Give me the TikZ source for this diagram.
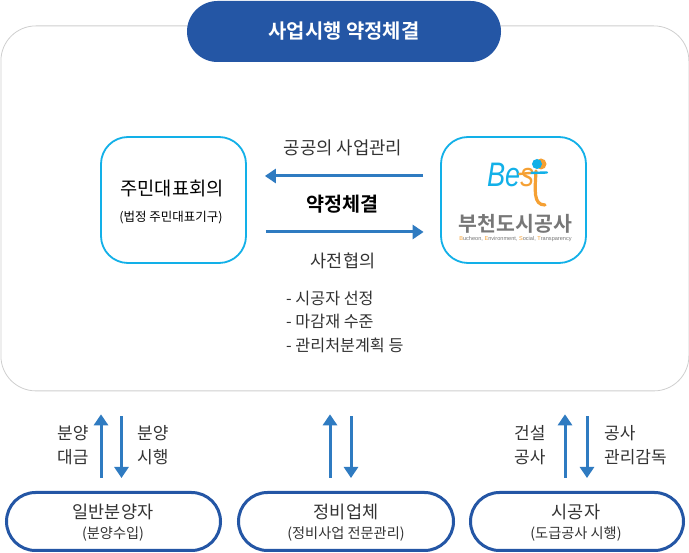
\documentclass[tikz,border=0pt]{standalone}
\usepackage{fontspec}
\setmainfont{Noto Sans CJK KR}
\newfontfamily\krb{Noto Sans CJK KR Bold}
\newfontfamily\lat{Liberation Sans}
\usetikzlibrary{arrows.meta,calc}
\definecolor{navy}{HTML}{2456A5}
\definecolor{arrowblue}{HTML}{2F7BC1}
\definecolor{sky}{HTML}{12B0E8}
\definecolor{framegray}{HTML}{CFCFCF}
\definecolor{txt}{HTML}{333333}
\definecolor{logoor}{HTML}{F5A033}
\definecolor{logogray}{HTML}{777777}
\newcommand{\fs}[1]{\fontsize{#1}{#1}\selectfont}
\tikzset{
  x=1pt,y=-1pt,
  frame/.style={draw=framegray,line width=0.8pt,fill=white,rounded corners=35pt,minimum width=688pt,minimum height=365pt,anchor=north west,inner sep=0},
  party/.style={draw=sky,line width=1.8pt,fill=white,rounded corners=27pt,minimum width=145pt,minimum height=126pt,inner sep=0},
  pillbox/.style={draw=navy,line width=3pt,fill=white,rounded corners=29pt,minimum height=58pt,inner sep=0},
  head/.style={fill=navy,rounded corners=30.5pt,minimum width=314pt,minimum height=61pt,inner sep=0,text=white},
  arr/.style={draw=arrowblue,line width=3pt,-{Triangle[length=11pt,width=14pt]}},
  lbl/.style={text=txt,inner sep=0,align=center},
  blk/.style={text=black,inner sep=0,align=center},
  twoline/.style={lbl,align=left,font=\fontsize{17}{24}\selectfont}
}
\begin{document}
\begin{tikzpicture}
\useasboundingbox (0,0) rectangle (689,553);
\node[frame] (fr) at (0.5,25.5) {};
\node[head] (hd) at (344,31.5) {\krb\fs{19.9}사업시행 약정체결};
\node[party] (rep) at (173.5,200) {};
\node[party] (best) at (513.5,200) {};
\node[blk] (t1) at (172,189) {\fs{18.7}주민대표회의};
\node[blk] (t2) at (171,218) {\fs{12.5}(법정 주민대표기구)};
% logo
\node[inner sep=0,anchor=base] (lg1) at (510.5,187) {\lat\itshape\fs{34}\scalebox{0.8}[1]{\textcolor{sky}{Be}\textcolor{logoor}{s}}};
\draw[logoor,line width=3.2pt,line cap=round] (536,171) .. controls (535,190) and (533,205) .. (545,205);
\draw[sky,line width=2.4pt,line cap=round] (530,173) -- (547,172.5);
\draw[logoor,line width=2.4pt,line cap=round] (519,174) -- (530,173);
\fill[logoor] (541,164) circle[radius=5.5];
\fill[sky] (537,164) circle[radius=5];
\node[inner sep=0,text=logogray] (lg2) at (515.5,224) {\krb\fs{20.5}부천도시공사};
\node[inner sep=0,text=logogray] (lg3) at (515.5,239) {\lat\fs{5.6}{\color{logoor}B}ucheon, {\color{logoor}E}nvironment, {\color{logoor}S}ocial, {\color{logoor}T}ransparency};
% middle
\draw[arr,shorten <=17pt,shorten >=18pt] (best.west |- 0,176) -- (rep.east |- 0,176);
\draw[arr,shorten <=19pt,shorten >=16.5pt] (rep.east |- 0,232) -- (best.west |- 0,232);
\node[lbl] (a) at (343,148) {\fs{17.8}공공의 사업관리};
\node[blk] (b) at (342.5,204) {\krb\fs{19.6}약정체결};
\node[lbl] (c) at (343,261) {\fs{17.5}사전협의};
\node[lbl,anchor=west] (d1) at (286,298) {\fs{16.2}- 시공자 선정};
\node[lbl,anchor=west] (d2) at (286,321) {\fs{16.2}- 마감재 수준};
\node[lbl,anchor=west] (d3) at (286,345) {\fs{16.2}- 관리처분계획 등};
% pills
\node[pillbox,minimum width=214pt] (p1) at (113.5,521.5) {};
\node[pillbox,minimum width=215pt] (p2) at (346,521.5) {};
\node[pillbox,minimum width=213pt] (p3) at (577,521.5) {};
\node[lbl] (p1a) at (113,512) {\fs{17.5}일반분양자};
\node[lbl] (p1b) at (113,534) {\fs{14.2}(분양수입)};
\node[lbl] (p2a) at (346,512) {\fs{17.5}정비업체};
\node[lbl] (p2b) at (346,534) {\fs{14.2}(정비사업 전문관리)};
\node[lbl] (p3a) at (576,512) {\fs{17.5}시공자};
\node[lbl] (p3b) at (576,534) {\fs{14.2}(도급공사 시행)};
% bottom arrows
\foreach \xa/\xb/\pn in {101/121.5/p1,330/351/p2,565/587/p3}{
  \draw[arr,shorten <=13pt,shorten >=23pt] (\pn.north -| \xa,0) -- (fr.south -| \xa,0);
  \draw[arr,shorten <=25pt,shorten >=13pt] (fr.south -| \xb,0) -- (\pn.north -| \xb,0);
}
\node[twoline,anchor=west] (l1) at (57,445) {분양\\대금};
\node[twoline,anchor=west] (l2) at (137,445) {분양\\시행};
\node[twoline,anchor=west] (l3) at (514,445) {건설\\공사};
\node[twoline,anchor=west] (l4) at (604,445) {공사\\관리감독};
\end{tikzpicture}
\end{document}
